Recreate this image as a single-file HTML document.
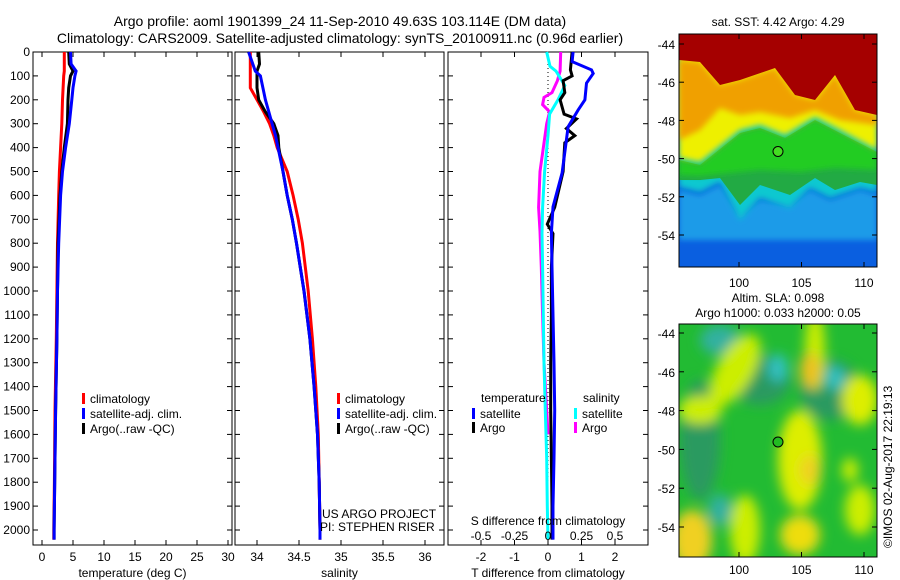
<!DOCTYPE html>
<html><head><meta charset="utf-8"><style>
html,body{margin:0;padding:0;background:#fff}
svg{display:block;font-family:"Liberation Sans",sans-serif}
</style></head><body>
<svg id="c" width="900" height="580" viewBox="0 0 900 580" xmlns="http://www.w3.org/2000/svg">
<defs>
<filter id="bl" x="-20%" y="-20%" width="140%" height="140%"><feGaussianBlur stdDeviation="6"/></filter>
<filter id="bl2" x="-20%" y="-20%" width="140%" height="140%"><feGaussianBlur stdDeviation="3"/></filter>
<clipPath id="cm1"><rect x="679" y="34" width="198" height="233"/></clipPath>
<clipPath id="cm2"><rect x="679" y="324" width="198" height="233"/></clipPath>
</defs>
<text x="340" y="26" font-size="14" text-anchor="middle">Argo profile: aoml 1901399_24 11-Sep-2010 49.63S 103.114E (DM data)</text>
<text x="340" y="43" font-size="14" text-anchor="middle">Climatology: CARS2009. Satellite-adjusted climatology: synTS_20100911.nc (0.96d earlier)</text>

<g id="p1"></g>
<g id="p2"></g>
<g id="p3"></g>

<!-- SST map -->
<g>
<g clip-path="url(#cm1)">
<rect x="679" y="34" width="198" height="233" fill="#0a5fe0"/>
<path d="M679,190 L700,195 L720,185 L740,215 L760,200 L790,205 L810,190 L830,200 L860,190 L877,195 L877,240 L679,240Z" fill="#1a9be8" filter="url(#bl2)"/>
<path d="M679,187 L700,192 L720,182 L740,220 L760,198 L790,208 L810,188 L830,198 L860,188 L877,192 L877,34 L679,34Z" fill="#10c8d0" filter="url(#bl2)"/>
<path d="M679,160 L700,165 L740,133 L760,128 L785,138 L815,120 L840,133 L877,152 L877,185 L860,182 L835,190 L815,178 L790,195 L760,185 L740,205 L720,178 L700,180 L679,180Z" fill="#22aa44"/>
<path d="M679,160 L700,165 L740,133 L760,128 L785,138 L815,120 L840,133 L877,152 L877,170 L835,168 L800,172 L760,170 L700,176 L679,175Z" fill="#22cc22" filter="url(#bl2)"/>
<path d="M679,158 L700,162 L740,130 L760,125 L785,135 L815,117 L840,130 L877,150 L877,34 L679,34Z" fill="#eef000" filter="url(#bl2)"/>
<path d="M679,60 L700,62 L720,85 L740,80 L775,68 L795,95 L815,100 L835,75 L855,110 L877,115 L877,125 L840,120 L815,110 L790,118 L760,112 L740,115 L720,108 L700,130 L679,140Z" fill="#f0a000" filter="url(#bl2)"/>
<path d="M679,60 L700,62 L720,85 L740,80 L775,68 L795,95 L815,100 L835,75 L855,110 L877,115 L877,34 L679,34Z" fill="#a50000"/>
</g>
<rect x="679" y="34" width="198" height="233" fill="none" stroke="#000"/>
<circle cx="778" cy="151.5" r="5" fill="#44dd22" stroke="#000"/>
</g>
<text x="778" y="26" font-size="12" text-anchor="middle">sat. SST: 4.42 Argo: 4.29</text>

<!-- SLA map -->
<g>
<g clip-path="url(#cm2)">
<rect x="679" y="324" width="198" height="233" fill="#22bb33"/>
<g filter="url(#bl)">
<ellipse cx="700" cy="440" rx="20" ry="60" fill="#2a9a60"/>
<ellipse cx="760" cy="380" rx="30" ry="25" fill="#2a9a60"/>
<ellipse cx="830" cy="390" rx="30" ry="30" fill="#2a9a60"/>
<ellipse cx="720" cy="340" rx="20" ry="15" fill="#30b0a0"/>
<ellipse cx="778" cy="368" rx="10" ry="14" fill="#30c0c0"/>
<ellipse cx="835" cy="378" rx="10" ry="12" fill="#30c0c0"/>
<ellipse cx="720" cy="510" rx="12" ry="16" fill="#30b0a0"/>
<ellipse cx="815" cy="350" rx="10" ry="40" fill="#ccee00"/>
<ellipse cx="810" cy="370" rx="10" ry="18" fill="#f0c020"/>
<ellipse cx="735" cy="370" rx="18" ry="40" fill="#ccee00" transform="rotate(30 735 370)"/>
<ellipse cx="700" cy="410" rx="22" ry="14" fill="#ccee00"/>
<ellipse cx="800" cy="460" rx="22" ry="50" fill="#ddee00"/>
<ellipse cx="810" cy="470" rx="10" ry="15" fill="#f0d020"/>
<ellipse cx="860" cy="400" rx="18" ry="25" fill="#ddee00"/>
<ellipse cx="692" cy="540" rx="20" ry="30" fill="#f0d020"/>
<ellipse cx="745" cy="530" rx="15" ry="35" fill="#ccee00"/>
<ellipse cx="800" cy="535" rx="20" ry="20" fill="#eedd10"/>
<ellipse cx="860" cy="510" rx="15" ry="25" fill="#ccee00"/>
<ellipse cx="850" cy="470" rx="8" ry="12" fill="#ccee00"/>
</g>
</g>
<rect x="679" y="324" width="198" height="233" fill="none" stroke="#000"/>
<circle cx="778" cy="442" r="5" fill="#22bb22" stroke="#000"/>
</g>
<text x="778" y="302" font-size="12" text-anchor="middle">Altim. SLA: 0.098</text>
<text x="778" y="317" font-size="12" text-anchor="middle">Argo h1000: 0.033 h2000: 0.05</text>
<text x="0" y="0" font-size="12" transform="translate(892,548) rotate(-90)">©IMOS 02-Aug-2017 22:19:13</text>
<g id="maps"></g>
</svg>
<script>
// ---- data ----
const depthTicks=[0,100,200,300,400,500,600,700,800,900,1000,1100,1200,1300,1400,1500,1600,1700,1800,1900,2000];
const tTicks=[0,5,10,15,20,25,30];
const sTicks=[34,34.5,35,35.5,36];
const sTickLabels=["34","34.5","35","35.5","36"];
const dTTicks=[-2,-1,0,1,2];
const dSTicks=[-0.5,-0.25,0,0.25,0.5];
const dSTickLabels=["-0.5","-0.25","0","0.25","0.5"];
const depthT=[0,50,80,100,150,200,300,400,500,600,800,1000,1200,1500,1800,2000,2040];
const tClim=[3.6,3.6,3.6,3.5,3.4,3.3,3.2,3.0,2.8,2.7,2.5,2.4,2.3,2.1,2.0,1.9,1.9];
const tArgo=[4.3,4.4,5.0,4.6,4.3,4.2,4.1,3.6,3.2,2.9,2.6,2.5,2.4,2.2,2.05,1.95,1.95];
const tSat=[4.6,4.7,5.5,5.3,5.0,4.8,4.4,3.8,3.3,3.0,2.7,2.5,2.4,2.2,2.05,1.95,1.95];
const depthS=[0,50,80,100,150,200,250,300,350,400,500,600,700,800,1000,1200,1400,1600,1800,2000,2040];
const sClim=[33.92,33.92,33.92,33.92,33.92,34.0,34.08,34.15,34.2,34.24,34.36,34.43,34.49,34.54,34.61,34.66,34.70,34.73,34.74,34.75,34.75];
const sArgo=[34.02,34.03,34.0,34.0,34.0,34.02,34.1,34.2,34.25,34.26,34.31,34.36,34.42,34.47,34.56,34.63,34.68,34.72,34.74,34.75,34.75];
const sSat=[33.9,33.95,33.98,34.04,34.07,34.1,34.14,34.18,34.22,34.25,34.31,34.36,34.42,34.47,34.56,34.63,34.68,34.72,34.74,34.75,34.75];
const depthDTsat=[0,40,75,90,130,200,243,313,368,506,648,757,900,1100,1300,1500,1700,1900,2040];
const dTsat=[0.75,0.72,1.3,1.35,1.15,1.1,0.9,0.6,0.55,0.42,0.15,0.1,0.12,0.15,0.18,0.2,0.18,0.15,0.15];
const depthDTargo=[0,75,100,120,170,200,260,280,320,350,380,500,650,720,760,900,1100,1300,1500,1700,1900,2040];
const dTargo=[0.72,0.67,0.72,0.45,0.5,0.36,0.48,0.85,0.55,0.8,0.5,0.45,0.2,-0.02,0.15,0.1,0.1,0.08,0.08,0.1,0.12,0.12];
const depthDSsat=[0,60,80,140,200,260,350,500,650,760,900,1100,1300,1500,1700,1900,2040];
const dSsat=[-0.01,0.015,0.06,0.125,0.075,0.012,0,-0.025,-0.04,-0.045,-0.04,-0.035,-0.03,-0.02,-0.01,-0.005,0];
const depthDSargo=[0,80,120,170,190,220,250,300,500,650,750,900,1100,1300,1500,1600];
const dSargo=[0.095,0.09,0.07,0.03,-0.03,-0.04,0.012,-0.01,-0.06,-0.07,-0.06,-0.05,-0.04,-0.03,-0.01,0];
const latTicks=[-44,-46,-48,-50,-52,-54];
const lonTicks=[100,105,110];

const NS="http://www.w3.org/2000/svg";
function mk(p,tag,at,txt){const e=document.createElementNS(NS,tag);for(const k in at)e.setAttribute(k,at[k]);if(txt!==undefined)e.textContent=txt;p.appendChild(e);return e;}
const yTop=52,yBot=545;
const yD=d=>yTop+d*0.239;

function panel(g,x0,x1,xs,ticks,labels,xlabel,name){
  const fr=mk(g,'rect',{x:x0,y:yTop,width:x1-x0,height:yBot-yTop,fill:'none',stroke:'#000'});
  
  
  depthTicks.forEach(d=>{
    mk(g,'line',{x1:x0,x2:x0+5,y1:yD(d),y2:yD(d),stroke:'#000'});
    mk(g,'line',{x1:x1,x2:x1-5,y1:yD(d),y2:yD(d),stroke:'#000'});
  });
  ticks.forEach((t,i)=>{
    const x=xs(t);
    mk(g,'line',{x1:x,x2:x,y1:yBot,y2:yBot-5,stroke:'#000'});
    mk(g,'line',{x1:x,x2:x,y1:yTop,y2:yTop+5,stroke:'#000'});
    const l=mk(g,'text',{x:x,y:561,'font-size':12,'text-anchor':'middle'},labels[i]);
    
    
  });
  const xl=mk(g,'text',{x:(x0+x1)/2,y:577,'font-size':12,'text-anchor':'middle'},xlabel);
  
  
}
function line(g,xs,depths,vals,color,name){
  const pts=depths.map((d,i)=>xs(vals[i]).toFixed(1)+','+yD(d).toFixed(1)).join(' ');
  const p=mk(g,'polyline',{points:pts,fill:'none',stroke:color,'stroke-width':3,'stroke-linejoin':'miter'});
  
  
}
function legend(g,x,y,color,txt,name){
  mk(g,'rect',{x:x,y:y-9,width:3,height:11,fill:color});
  const t=mk(g,'text',{x:x+8,y:y+1,'font-size':12},txt);
  
  
}
// y tick labels
const svg=document.getElementById('c');
depthTicks.forEach(d=>{
  const t=mk(svg,'text',{x:30,y:yD(d)+4,'font-size':12,'text-anchor':'end'},String(d));
  
  
});
// panel 1
const p1=document.getElementById('p1');
const xT=v=>42+v*6.2;
panel(p1,33,232,xT,tTicks,tTicks.map(String),'temperature (deg C)','temperature');
line(p1,xT,depthT,tClim,'#f00','temp-climatology-line');
line(p1,xT,depthT,tArgo,'#000','temp-argo-line');
line(p1,xT,depthT,tSat,'#00f','temp-satellite-line');
legend(p1,82,402,'#f00','climatology','temp-legend-climatology');
legend(p1,82,417,'#00f','satellite-adj. clim.','temp-legend-satellite');
legend(p1,82,432,'#000','Argo(..raw -QC)','temp-legend-argo');
// panel 2
const p2=document.getElementById('p2');
const xS=v=>257+(v-34)*84;
panel(p2,235,444,xS,sTicks,sTickLabels,'salinity','salinity');
line(p2,xS,depthS,sClim,'#f00','sal-climatology-line');
line(p2,xS,depthS,sArgo,'#000','sal-argo-line');
line(p2,xS,depthS,sSat,'#00f','sal-satellite-line');
legend(p2,337,402,'#f00','climatology','sal-legend-climatology');
legend(p2,337,417,'#00f','satellite-adj. clim.','sal-legend-satellite');
legend(p2,337,432,'#000','Argo(..raw -QC)','sal-legend-argo');
let t=mk(p2,'text',{x:322,y:518,'font-size':12},'US ARGO PROJECT');
t=mk(p2,'text',{x:320,y:531,'font-size':12},'PI: STEPHEN RISER');
// panel 3
const p3=document.getElementById('p3');
const xDT=v=>548+v*33.5;
const xDS=v=>548+v*4*33.5;
panel(p3,448,648,xDT,dTTicks,dTTicks.map(String),'T difference from climatology','difference');
mk(p3,'line',{x1:548,x2:548,y1:yTop,y2:yBot,stroke:'#000','stroke-dasharray':'1,3'});
line(p3,xDS,depthDSargo,dSargo,'#f0f','sal-diff-argo-line');
line(p3,xDS,depthDSsat,dSsat,'#0ff','sal-diff-satellite-line');
line(p3,xDT,depthDTargo,dTargo,'#000','temp-diff-argo-line');
line(p3,xDT,depthDTsat,dTsat,'#00f','temp-diff-satellite-line');
dSTicks.forEach((v,i)=>{
  const l=mk(p3,'text',{x:xDS(v),y:540,'font-size':12,'text-anchor':'middle'},dSTickLabels[i]);
  
  
});
t=mk(p3,'text',{x:548,y:525,'font-size':12,'text-anchor':'middle'},'S difference from climatology');
t=mk(p3,'text',{x:481,y:402,'font-size':12},'temperature');
t=mk(p3,'text',{x:583,y:402,'font-size':12},'salinity');
legend(p3,472,417,'#00f','satellite','diff-legend-temp-satellite');
legend(p3,472,431,'#000','Argo','diff-legend-temp-argo');
legend(p3,574,417,'#0ff','satellite','diff-legend-sal-satellite');
legend(p3,574,431,'#f0f','Argo','diff-legend-sal-argo');
// map axes
const mg=document.getElementById('maps');
[[34,44,19.1,287],[324,333,19.4,574]].forEach(([top,lat0,sc,ly],mi)=>{
  latTicks.forEach(la=>{
    const y=lat0+(-44-la)*sc;
    mk(mg,'line',{x1:679,x2:684,y1:y,y2:y,stroke:'#000'});
    mk(mg,'line',{x1:877,x2:872,y1:y,y2:y,stroke:'#000'});
    const l=mk(mg,'text',{x:675,y:y+5,'font-size':12,'text-anchor':'end'},String(la));
    
    
  });
  lonTicks.forEach(lo=>{
    const x=739+(lo-100)*12.5;
    mk(mg,'line',{x1:x,x2:x,y1:top+233,y2:top+228,stroke:'#000'});
    mk(mg,'line',{x1:x,x2:x,y1:top,y2:top+5,stroke:'#000'});
    const l=mk(mg,'text',{x:x,y:ly,'font-size':12,'text-anchor':'middle'},String(lo));
    
    
  });
});
</script>
</body></html>
